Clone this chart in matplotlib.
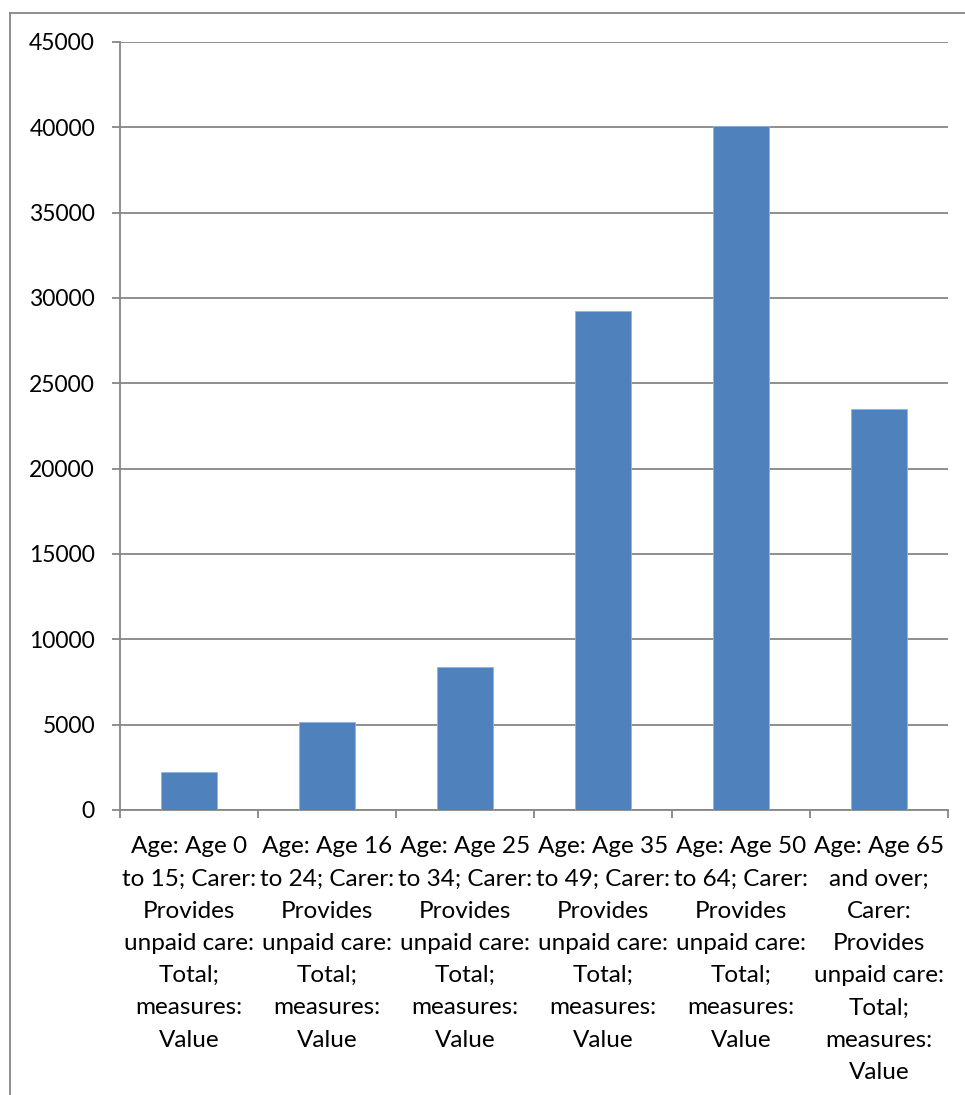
import matplotlib
matplotlib.use('Agg')
import matplotlib.pyplot as plt
from matplotlib.lines import Line2D
import numpy as np

categories = [
    "Age: Age 0\nto 15; Carer:\nProvides\nunpaid care:\nTotal;\nmeasures:\nValue",
    "Age: Age 16\nto 24; Carer:\nProvides\nunpaid care:\nTotal;\nmeasures:\nValue",
    "Age: Age 25\nto 34; Carer:\nProvides\nunpaid care:\nTotal;\nmeasures:\nValue",
    "Age: Age 35\nto 49; Carer:\nProvides\nunpaid care:\nTotal;\nmeasures:\nValue",
    "Age: Age 50\nto 64; Carer:\nProvides\nunpaid care:\nTotal;\nmeasures:\nValue",
    "Age: Age 65\nand over;\nCarer:\nProvides\nunpaid care:\nTotal;\nmeasures:\nValue",
]
values = [2200, 5180, 8350, 29230, 40080, 23470]
yticks = [0, 5000, 10000, 15000, 20000, 25000, 30000, 35000, 40000, 45000]

W, H = 965, 1095
grey = '#868686'

plt.rcParams['font.family'] = ['Lato', 'DejaVu Sans']

fig = plt.figure(figsize=(W / 100, H / 100), dpi=100)
ax = fig.add_axes([120 / W, 1 - 810 / H, (948 - 120) / W, (810 - 42) / H])

x = np.arange(len(values))
ax.bar(x, values, width=0.4, color='#4F81BD', edgecolor='#8EB4E3', linewidth=0.6, zorder=3)

ax.set_xlim(-0.5, len(values) - 0.5)
ax.set_ylim(0, 45000)
ax.set_yticks(yticks)
ax.set_yticklabels([str(v) for v in yticks], fontsize=16.5)
ax.yaxis.grid(True, color=grey, linewidth=1.3, zorder=0)

ax.set_xticks(x)
ax.set_xticklabels(categories, fontsize=17.5, linespacing=1.66)
ax.set_xticks(np.arange(-0.5, len(values)), minor=True)
ax.tick_params(axis='x', which='major', length=0, pad=19)
ax.tick_params(axis='x', which='minor', length=6, width=1.3, color=grey)
ax.tick_params(axis='y', length=6, width=1.3, color=grey, pad=12)

for side in ['top', 'right']:
    ax.spines[side].set_visible(False)
for side in ['left', 'bottom']:
    ax.spines[side].set_color(grey)
    ax.spines[side].set_linewidth(1.3)

# outer chart frame (cropped on the right and bottom)
fig.add_artist(Line2D([10 / W, 10 / W], [0, 1 - 13 / H], color=grey, linewidth=1.3))
fig.add_artist(Line2D([10 / W, 1], [1 - 13 / H, 1 - 13 / H], color=grey, linewidth=1.3))

fig.savefig('out.png', dpi=100)
